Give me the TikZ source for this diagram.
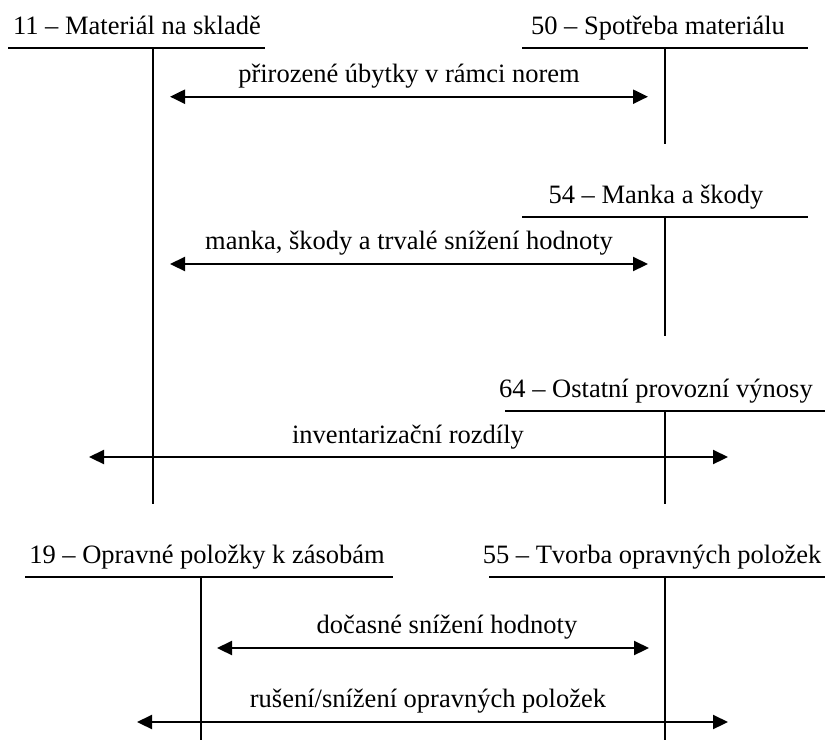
\documentclass[tikz,border=0pt]{standalone}
\usepackage{fontspec}
\setmainfont{Liberation Serif}
\usetikzlibrary{arrows.meta}
\begin{document}
\begin{tikzpicture}[x=1pt,y=-1pt,
  acct/.style={line width=2.2pt},
  flow/.style={line width=2.2pt,{Triangle[length=15pt,width=14pt]}-{Triangle[length=15pt,width=14pt]}},
  lbl/.style={anchor=base,inner sep=0pt,font=\fontsize{26.5}{30}\selectfont}]
\useasboundingbox (0,0) rectangle (825,740);
% account headers
\node[lbl] (h11) at (137,34.5) {11 – Materiál na skladě};
\node[lbl] (h50) at (658,34.5) {50 – Spotřeba materiálu};
\node[lbl] (h54) at (656,203) {54 – Manka a škody};
\node[lbl] (h64) at (656,397) {64 – Ostatní provozní výnosy};
\node[lbl] (h19) at (207,563) {19 – Opravné položky k zásobám};
\node[lbl] (h55) at (652,563) {55 – Tvorba opravných položek};
% T-accounts
\draw[acct] (8,48) -- (265,48) (153,48) -- (153,504);
\draw[acct] (522,48) -- (808,48) (665,48) -- (665,144);
\draw[acct] (522,217) -- (808,217) (665,217) -- (665,336);
\draw[acct] (505,411) -- (825,411) (665,411) -- (665,504);
\draw[acct] (25,577) -- (393,577) (201,577) -- (201,740);
\draw[acct] (489,577) -- (825,577) (665,577) -- (665,740);
% arrow ends
\coordinate (a1l) at (170,96.7);  \coordinate (a1r) at (648,96.7);
\coordinate (a2l) at (170,264);   \coordinate (a2r) at (648,264);
\coordinate (a3l) at (89,457);    \coordinate (a3r) at (728,457);
\coordinate (a4l) at (217,648);   \coordinate (a4r) at (649,648);
\coordinate (a5l) at (137,722);   \coordinate (a5r) at (728,722);
\draw[flow] (a1l) -- (a1r);
\draw[flow] (a2l) -- (a2r);
\draw[flow] (a3l) -- (a3r);
\draw[flow] (a4l) -- (a4r);
\draw[flow] (a5l) -- (a5r);
% labels
\node[lbl] (l1) at (409,82.5) {přirozené úbytky v rámci norem};
\node[lbl] (l2) at (409,249.5) {manka, škody a trvalé snížení hodnoty};
\node[lbl] (l3) at (408,443) {inventarizační rozdíly};
\node[lbl] (l4) at (447,633) {dočasné snížení hodnoty};
\node[lbl] (l5) at (428,707) {rušení/snížení opravných položek};
\end{tikzpicture}
\end{document}
